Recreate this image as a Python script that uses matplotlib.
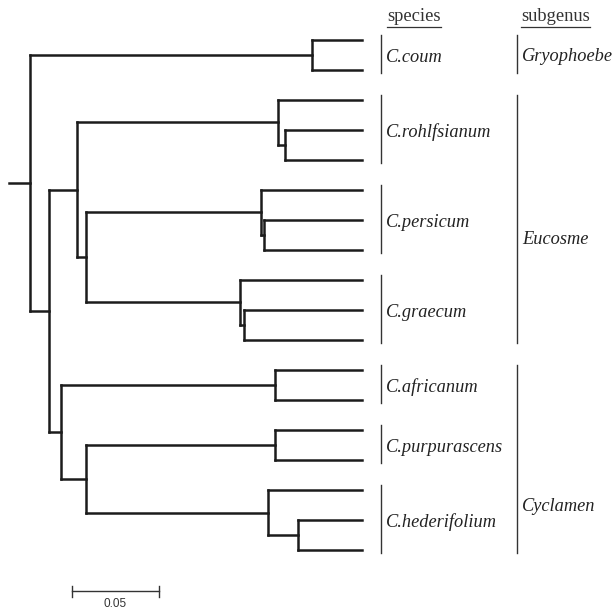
import matplotlib.pyplot as plt

# tree: internal nodes with parent and branch length (substitutions/site)
node_names = ["root", "coum", "B", "C", "rohl", "rohl_sub", "D", "pers", "pers_sub",
              "grae", "grae_sub", "E", "afr", "F", "purp", "hed", "hed_sub"]
node_parents = [None, "root", "root", "B", "C", "rohl", "C", "D", "pers",
                "D", "grae", "B", "E", "E", "F", "F", "hed"]
node_lengths = [0.0, 0.162, 0.0109, 0.0161, 0.1155, 0.0040, 0.0052, 0.1006, 0.0017,
                0.0885, 0.0023, 0.0069, 0.1230, 0.0144, 0.1086, 0.1046, 0.0172]

# leaves, top to bottom
leaf_parents = ["coum", "coum", "rohl", "rohl_sub", "rohl_sub", "pers", "pers_sub", "pers_sub",
                "grae", "grae_sub", "grae_sub", "afr", "afr", "purp", "purp",
                "hed", "hed_sub", "hed_sub"]
leaf_lengths = [0.0287, 0.0287, 0.0483, 0.0443, 0.0443, 0.0580, 0.0563, 0.0563,
                0.0701, 0.0678, 0.0678, 0.0500, 0.0500, 0.0500, 0.0500,
                0.0540, 0.0368, 0.0368]

species = ["C.coum", "C.rohlfsianum", "C.persicum", "C.graecum",
           "C.africanum", "C.purpurascens", "C.hederifolium"]
species_leaves = [(0, 1), (2, 4), (5, 7), (8, 10), (11, 12), (13, 14), (15, 17)]

subgenera = ["Gryophoebe", "Eucosme", "Cyclamen"]
subgenus_leaves = [(0, 1), (2, 10), (11, 17)]
subgenus_label_y = [0.5, 6.6, 15.5]

# depth (x) of every node
depth = {}
for name, par, bl in zip(node_names, node_parents, node_lengths):
    depth[name] = bl if par is None else depth[par] + bl

children = {n: [] for n in node_names}
for name, par in zip(node_names, node_parents):
    if par is not None:
        children[par].append(("n", name))
leaf_x = []
for i, (par, bl) in enumerate(zip(leaf_parents, leaf_lengths)):
    children[par].append(("l", i))
    leaf_x.append(depth[par] + bl)

ypos = {}


def node_y(name):
    ys = []
    for kind, c in children[name]:
        ys.append(c if kind == "l" else node_y(c))
    ypos[name] = (min(ys) + max(ys)) / 2
    return ypos[name]


node_y("root")

fig = plt.figure(figsize=(6.16, 6.12), dpi=100)
ax = fig.add_axes([0, 0, 1, 1])
ax.set_xlim(-30 / 1740, 586 / 1740)
ax.set_ylim(572 / 30, -40 / 30)
ax.axis("off")

lc = "#1c1c1c"
lw = 1.8
kw = dict(color=lc, lw=lw, solid_capstyle="projecting")

for name in node_names:
    x0 = depth[name]
    ys = []
    for kind, c in children[name]:
        if kind == "l":
            cy, cx = c, leaf_x[c]
        else:
            cy, cx = ypos[c], depth[c]
        ys.append(cy)
        ax.plot([x0, cx], [cy, cy], **kw)
    ax.plot([x0, x0], [min(ys), max(ys)], **kw)

# root stub
ax.plot([-0.012, 0], [ypos["root"], ypos["root"]], **kw)

serif = "Liberation Serif"
sp_bar = 0.2017
sp_txt = 0.2047
for name, (a, b) in zip(species, species_leaves):
    ax.plot([sp_bar, sp_bar], [a - 0.17, b + 0.1], color="#333333", lw=1.0)
    ax.text(sp_txt, (a + b) / 2 + 0.08, name, family=serif, style="italic",
            fontsize=13.2, va="center", ha="left", color="#222222")

sg_bar = 0.2799
sg_txt = 0.2827
for name, (a, b), ty in zip(subgenera, subgenus_leaves, subgenus_label_y):
    ax.plot([sg_bar, sg_bar], [a - 0.17, b + 0.1], color="#333333", lw=1.0)
    ax.text(sg_txt, ty + 0.05, name, family=serif, style="italic",
            fontsize=13.2, va="center", ha="left", color="#222222")

# column headers
for label, hx in [("species", 0.2052), ("subgenus", 0.2822)]:
    t = ax.text(hx, -0.77, label, family=serif, fontsize=13.3, va="center",
                ha="left", color="#333333")
    fig.canvas.draw()
    bb = t.get_window_extent().transformed(ax.transData.inverted())
    ax.plot([bb.x0, bb.x1], [-0.42, -0.42], color="#333333", lw=0.9)

# scale bar
sb_x = 0.0241
sb_len = 0.05
sb_y = 18.37
ax.plot([sb_x, sb_x + sb_len], [sb_y, sb_y], color="#333333", lw=1.0)
for xx in (sb_x, sb_x + sb_len):
    ax.plot([xx, xx], [sb_y - 0.18, sb_y + 0.18], color="#333333", lw=1.0)
ax.text(sb_x + sb_len / 2, 18.8, "0.05", family=["Liberation Sans Narrow", "Liberation Sans"],
        fontsize=8.5, ha="center", va="center", color="#333333")

fig.savefig("out.png", dpi=100)
